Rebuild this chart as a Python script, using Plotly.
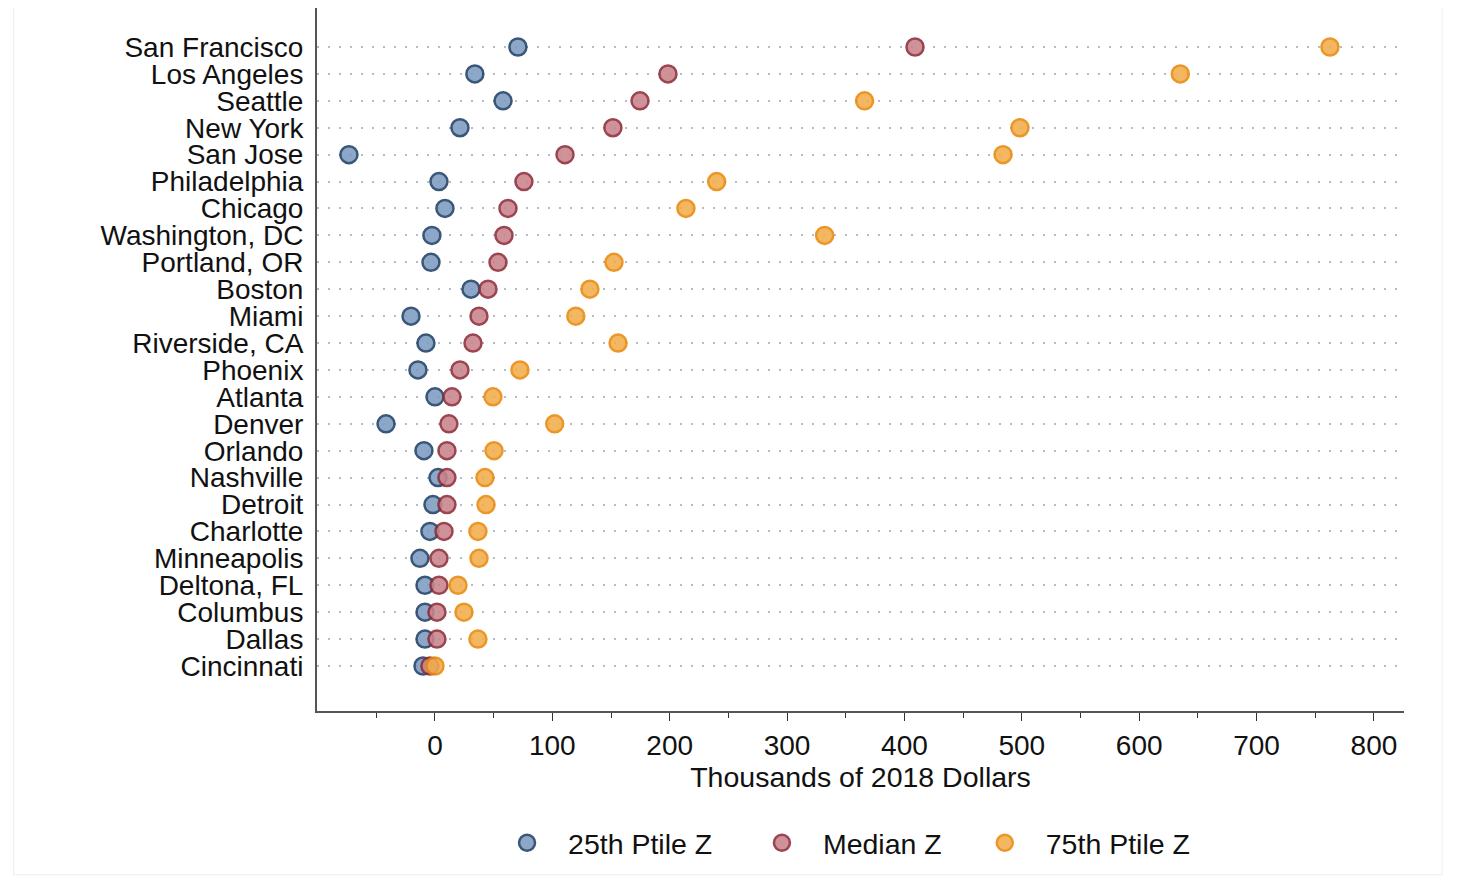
import plotly.graph_objects as go

# cities from top to bottom, as in the picture
cities = ["San Francisco", "Los Angeles", "Seattle", "New York", "San Jose",
          "Philadelphia", "Chicago", "Washington, DC", "Portland, OR", "Boston",
          "Miami", "Riverside, CA", "Phoenix", "Atlanta", "Denver", "Orlando",
          "Nashville", "Detroit", "Charlotte", "Minneapolis", "Deltona, FL",
          "Columbus", "Dallas", "Cincinnati"]

p25 = [70.7, 34, 58, 21.3, -73.3, 3.4, 8.5, -2.6, -3.4, 30.7, -20.4, -7.7,
       -14.5, 0, -41.7, -9.4, 2.6, -1.7, -4.3, -12.8, -8.5, -8.5, -8.5, -10.2]
median = [409, 198.5, 174.7, 151.6, 110.8, 75.8, 62.2, 58.8, 53.7, 45.2, 37.5, 32.4,
          21.3, 14.5, 11.9, 10.2, 10.2, 10.2, 7.7, 3.4, 3.4, 1.7, 1.7, -4.3]
p75 = [762.5, 635, 366, 498.4, 484, 240, 213.8, 332, 152.5, 132, 120, 156,
       72.4, 49.4, 102, 50.3, 42.6, 43.5, 36.6, 37.5, 19.6, 24.7, 36.6, 0]

x_ticks = [0, 100, 200, 300, 400, 500, 600, 700, 800]

n = len(cities)
ypos = [n - 1 - i for i in range(n)]

FONT = "Liberation Sans, Arial, sans-serif"

fig = go.Figure()
series = [
    ("25th Ptile Z", p25, "rgb(125,156,192)", "#1f3f66", "legend", 0.1555),
    ("Median Z", median, "rgb(201,132,140)", "#8e2c3a", "legend2", 0.390),
    ("75th Ptile Z", p75, "rgb(242,172,76)", "#e8890a", "legend3", 0.595),
]
for name, vals, fill, edge, leg, lx in series:
    fig.add_trace(go.Scatter(
        x=vals, y=ypos, mode="markers", name=name, legend=leg,
        marker=dict(size=17, color=fill, opacity=0.88,
                    line=dict(color=edge, width=2.5)),
    ))
    fig.update_layout({leg: dict(x=lx, xanchor="left", y=-0.188, yanchor="middle",
                                 font=dict(size=28.5), itemwidth=72,
                                 bgcolor="rgba(0,0,0,0)")})

fig.update_layout(
    width=1459, height=893,
    margin=dict(l=309, r=63, t=0, b=190),
    paper_bgcolor="white", plot_bgcolor="white",
    font=dict(family=FONT, size=28, color="#111111"),
    showlegend=True,
)
fig.update_xaxes(
    range=[-100.5, 825.6], tickvals=x_ticks, ticks="outside", ticklen=8,
    tickcolor="#333333", showline=True, linecolor="#555555", linewidth=2,
    showgrid=False, zeroline=False, tickfont=dict(size=28),
    minor=dict(tickvals=[-50, 50, 150, 250, 350, 450, 550, 650, 750],
               ticks="outside", ticklen=5, tickcolor="#333333"),
    title=dict(text="Thousands of 2018 Dollars", font=dict(size=28.5), standoff=6),
)
fig.update_yaxes(
    range=[-1.672, 24.449], tickvals=ypos, ticktext=cities, ticks="",
    showline=True, linecolor="#555555", linewidth=2,
    showgrid=True, gridcolor="#b4bcc8", griddash="2px,9px", gridwidth=2,
    zeroline=False, tickfont=dict(size=28), ticklabelstandoff=6,
)

# faint outer frame of the graph region
fig.add_shape(type="rect", xref="paper", yref="paper",
              x0=-0.279, x1=1.035, y0=-0.233, y1=1.011,
              line=dict(color="#eeeeee", width=1))

fig.write_html("out.html")
